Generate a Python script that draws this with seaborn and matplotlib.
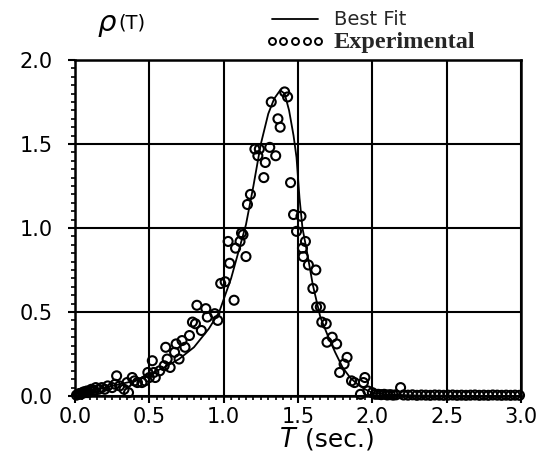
import numpy as np
import pandas as pd
import matplotlib
matplotlib.use("Agg")
import matplotlib.pyplot as plt
from matplotlib.lines import Line2D
from matplotlib.ticker import MultipleLocator
import seaborn as sns

# ---- Best fit curve ----
fit_T = [0.0, 0.05, 0.1, 0.2, 0.3, 0.4, 0.5, 0.6, 0.7, 0.8, 0.9, 0.97, 1.05, 1.1,
         1.15, 1.2, 1.25, 1.3, 1.34, 1.38, 1.41, 1.44, 1.47, 1.49, 1.51, 1.53,
         1.56, 1.6, 1.65, 1.7, 1.75, 1.8, 1.85, 1.9, 1.95, 2.0, 2.1, 2.3, 2.6, 3.0]
fit_rho = [0.0, 0.015, 0.03, 0.05, 0.07, 0.09, 0.13, 0.17, 0.22, 0.29, 0.40, 0.50,
           0.70, 0.86, 1.02, 1.25, 1.50, 1.68, 1.77, 1.82, 1.80, 1.70, 1.55, 1.42,
           1.18, 1.00, 0.86, 0.66, 0.47, 0.36, 0.26, 0.17, 0.11, 0.07, 0.04, 0.02,
           0.008, 0.003, 0.001, 0.0]

# ---- Experimental points ----
exp_T = [0.01, 0.02, 0.03, 0.04, 0.05, 0.06, 0.07, 0.08, 0.09, 0.10, 0.11, 0.12,
         0.13, 0.14, 0.16, 0.18, 0.20, 0.22, 0.25, 0.27, 0.28, 0.30, 0.33, 0.35,
         0.36, 0.385, 0.40, 0.42, 0.45, 0.47, 0.49, 0.50, 0.52, 0.53, 0.54, 0.57,
         0.60, 0.61, 0.62, 0.64, 0.67, 0.68, 0.70, 0.72, 0.74, 0.77, 0.79, 0.81,
         0.82, 0.85, 0.88, 0.89, 0.94, 0.96, 0.98, 1.01, 1.03, 1.04, 1.07, 1.08,
         1.11, 1.12, 1.13, 1.15, 1.16, 1.18, 1.21, 1.23, 1.24, 1.27, 1.28, 1.31,
         1.32, 1.35, 1.365, 1.38, 1.41, 1.43, 1.45, 1.47, 1.49, 1.52, 1.53, 1.535,
         1.55, 1.57, 1.60, 1.62, 1.625, 1.65, 1.66, 1.69, 1.695, 1.73, 1.76, 1.78,
         1.81, 1.83, 1.86, 1.88, 1.92, 1.94, 1.95, 1.97, 2.00, 2.02, 2.04, 2.06,
         2.08, 2.10, 2.12, 2.14, 2.16, 2.19, 2.21, 2.24, 2.27, 2.30, 2.33, 2.36,
         2.39, 2.42, 2.45, 2.48, 2.51, 2.54, 2.57, 2.60, 2.63, 2.66, 2.69, 2.72,
         2.75, 2.78, 2.81, 2.84, 2.87, 2.90, 2.93, 2.96, 2.99]
exp_rho = [0.005, 0.01, 0.015, 0.01, 0.02, 0.025, 0.02, 0.03, 0.02, 0.03, 0.04, 0.03,
           0.03, 0.05, 0.04, 0.05, 0.04, 0.06, 0.05, 0.07, 0.12, 0.06, 0.04, 0.08,
           0.02, 0.11, 0.09, 0.08, 0.08, 0.09, 0.14, 0.11, 0.21, 0.14, 0.11, 0.15,
           0.18, 0.29, 0.22, 0.17, 0.26, 0.31, 0.22, 0.33, 0.29, 0.36, 0.44, 0.43,
           0.54, 0.39, 0.52, 0.47, 0.49, 0.45, 0.67, 0.68, 0.92, 0.79, 0.57, 0.88,
           0.92, 0.97, 0.96, 0.83, 1.14, 1.20, 1.47, 1.43, 1.47, 1.30, 1.39, 1.48,
           1.75, 1.43, 1.65, 1.60, 1.81, 1.78, 1.27, 1.08, 0.98, 1.07, 0.88, 0.83,
           0.92, 0.78, 0.64, 0.75, 0.53, 0.53, 0.44, 0.43, 0.32, 0.35, 0.31, 0.14,
           0.19, 0.23, 0.09, 0.08, 0.01, 0.08, 0.11, 0.03, 0.02, 0.01, 0.01, 0.008,
           0.01, 0.006, 0.008, 0.005, 0.007, 0.05, 0.006, 0.005, 0.007, 0.004, 0.006, 0.005,
           0.004, 0.006, 0.005, 0.004, 0.005, 0.006, 0.004, 0.005, 0.004, 0.005, 0.006, 0.004,
           0.005, 0.004, 0.006, 0.005, 0.004, 0.005, 0.004, 0.005, 0.004]

x_ticks = [0.0, 0.5, 1.0, 1.5, 2.0, 2.5, 3.0]
y_ticks = [0.0, 0.5, 1.0, 1.5, 2.0]

fit_df = pd.DataFrame({"T": fit_T, "rho": fit_rho})
exp_df = pd.DataFrame({"T": exp_T, "rho": exp_rho})

sns.set_theme(style="white")
plt.rcParams["font.family"] = ["DejaVu Sans"]

fig = plt.figure(figsize=(5.4, 4.66), dpi=100)
ax = fig.add_axes([75 / 540, 1 - 396 / 466, (521 - 75) / 540, (396 - 60) / 466])

sns.scatterplot(data=exp_df, x="T", y="rho", ax=ax, marker="o", s=42,
                facecolor="none", edgecolor="black", linewidth=1.5, zorder=3,
                clip_on=False)
sns.lineplot(data=fit_df, x="T", y="rho", ax=ax, color="black", linewidth=1.3,
             zorder=4, clip_on=False)

ax.set_xlim(0, 3.0)
ax.set_ylim(0, 2.0)
ax.set_xticks(x_ticks)
ax.set_yticks(y_ticks)
ax.set_xticklabels([f"{v:.1f}" for v in x_ticks])
ax.set_yticklabels([f"{v:.1f}" for v in y_ticks])
ax.xaxis.set_minor_locator(MultipleLocator(0.05))
ax.yaxis.set_minor_locator(MultipleLocator(0.05))
ax.tick_params(which="major", direction="out", length=5, width=1.5,
               labelsize=15, color="black", labelcolor="black",
               bottom=True, left=True)
ax.tick_params(which="minor", direction="out", length=3.2, width=1.2,
               color="black", bottom=True, left=True)
ax.tick_params(axis="y", which="major", pad=11)
ax.tick_params(axis="x", which="major", pad=3)
ax.grid(True, which="major", color="black", linewidth=1.5)
for sp in ax.spines.values():
    sp.set_color("black")
    sp.set_linewidth(1.8)
ax.set_xlabel("")
ax.set_ylabel("")

# axis labels
fig.text(296 / 540, 1 - 440 / 466, "T", style="italic", fontsize=18.5,
         ha="right", va="center", color="black")
fig.text(297 / 540, 1 - 440 / 466, " (sec.)", fontsize=18,
         ha="left", va="center", color="black")
fig.text(98 / 540, 1 - 23 / 466, "ρ", style="italic", fontsize=21,
         ha="left", va="center", color="black")
fig.text(118 / 540, 1 - 23 / 466, "(T)", fontsize=14,
         ha="left", va="center", color="black")

# legend
handles = [Line2D([0], [0], color="black", linewidth=1.3),
           Line2D([0], [0], color="black", linestyle="none", marker="o",
                  markersize=5, markerfacecolor="none", markeredgewidth=1.4)]
leg = fig.legend(handles, ["Best Fit", "Experimental"], loc="lower left",
                 bbox_to_anchor=(256 / 540, 1 - 63 / 466), frameon=False,
                 numpoints=5, handlelength=3.0, handletextpad=0.5,
                 labelspacing=0.15, borderpad=0, fontsize=14)
t1, t2 = leg.get_texts()
t2.set_fontfamily(["Liberation Serif", "DejaVu Serif"])
t2.set_fontweight("bold")
t2.set_fontsize(17.5)

fig.savefig("out.png", dpi=100, facecolor="white")
